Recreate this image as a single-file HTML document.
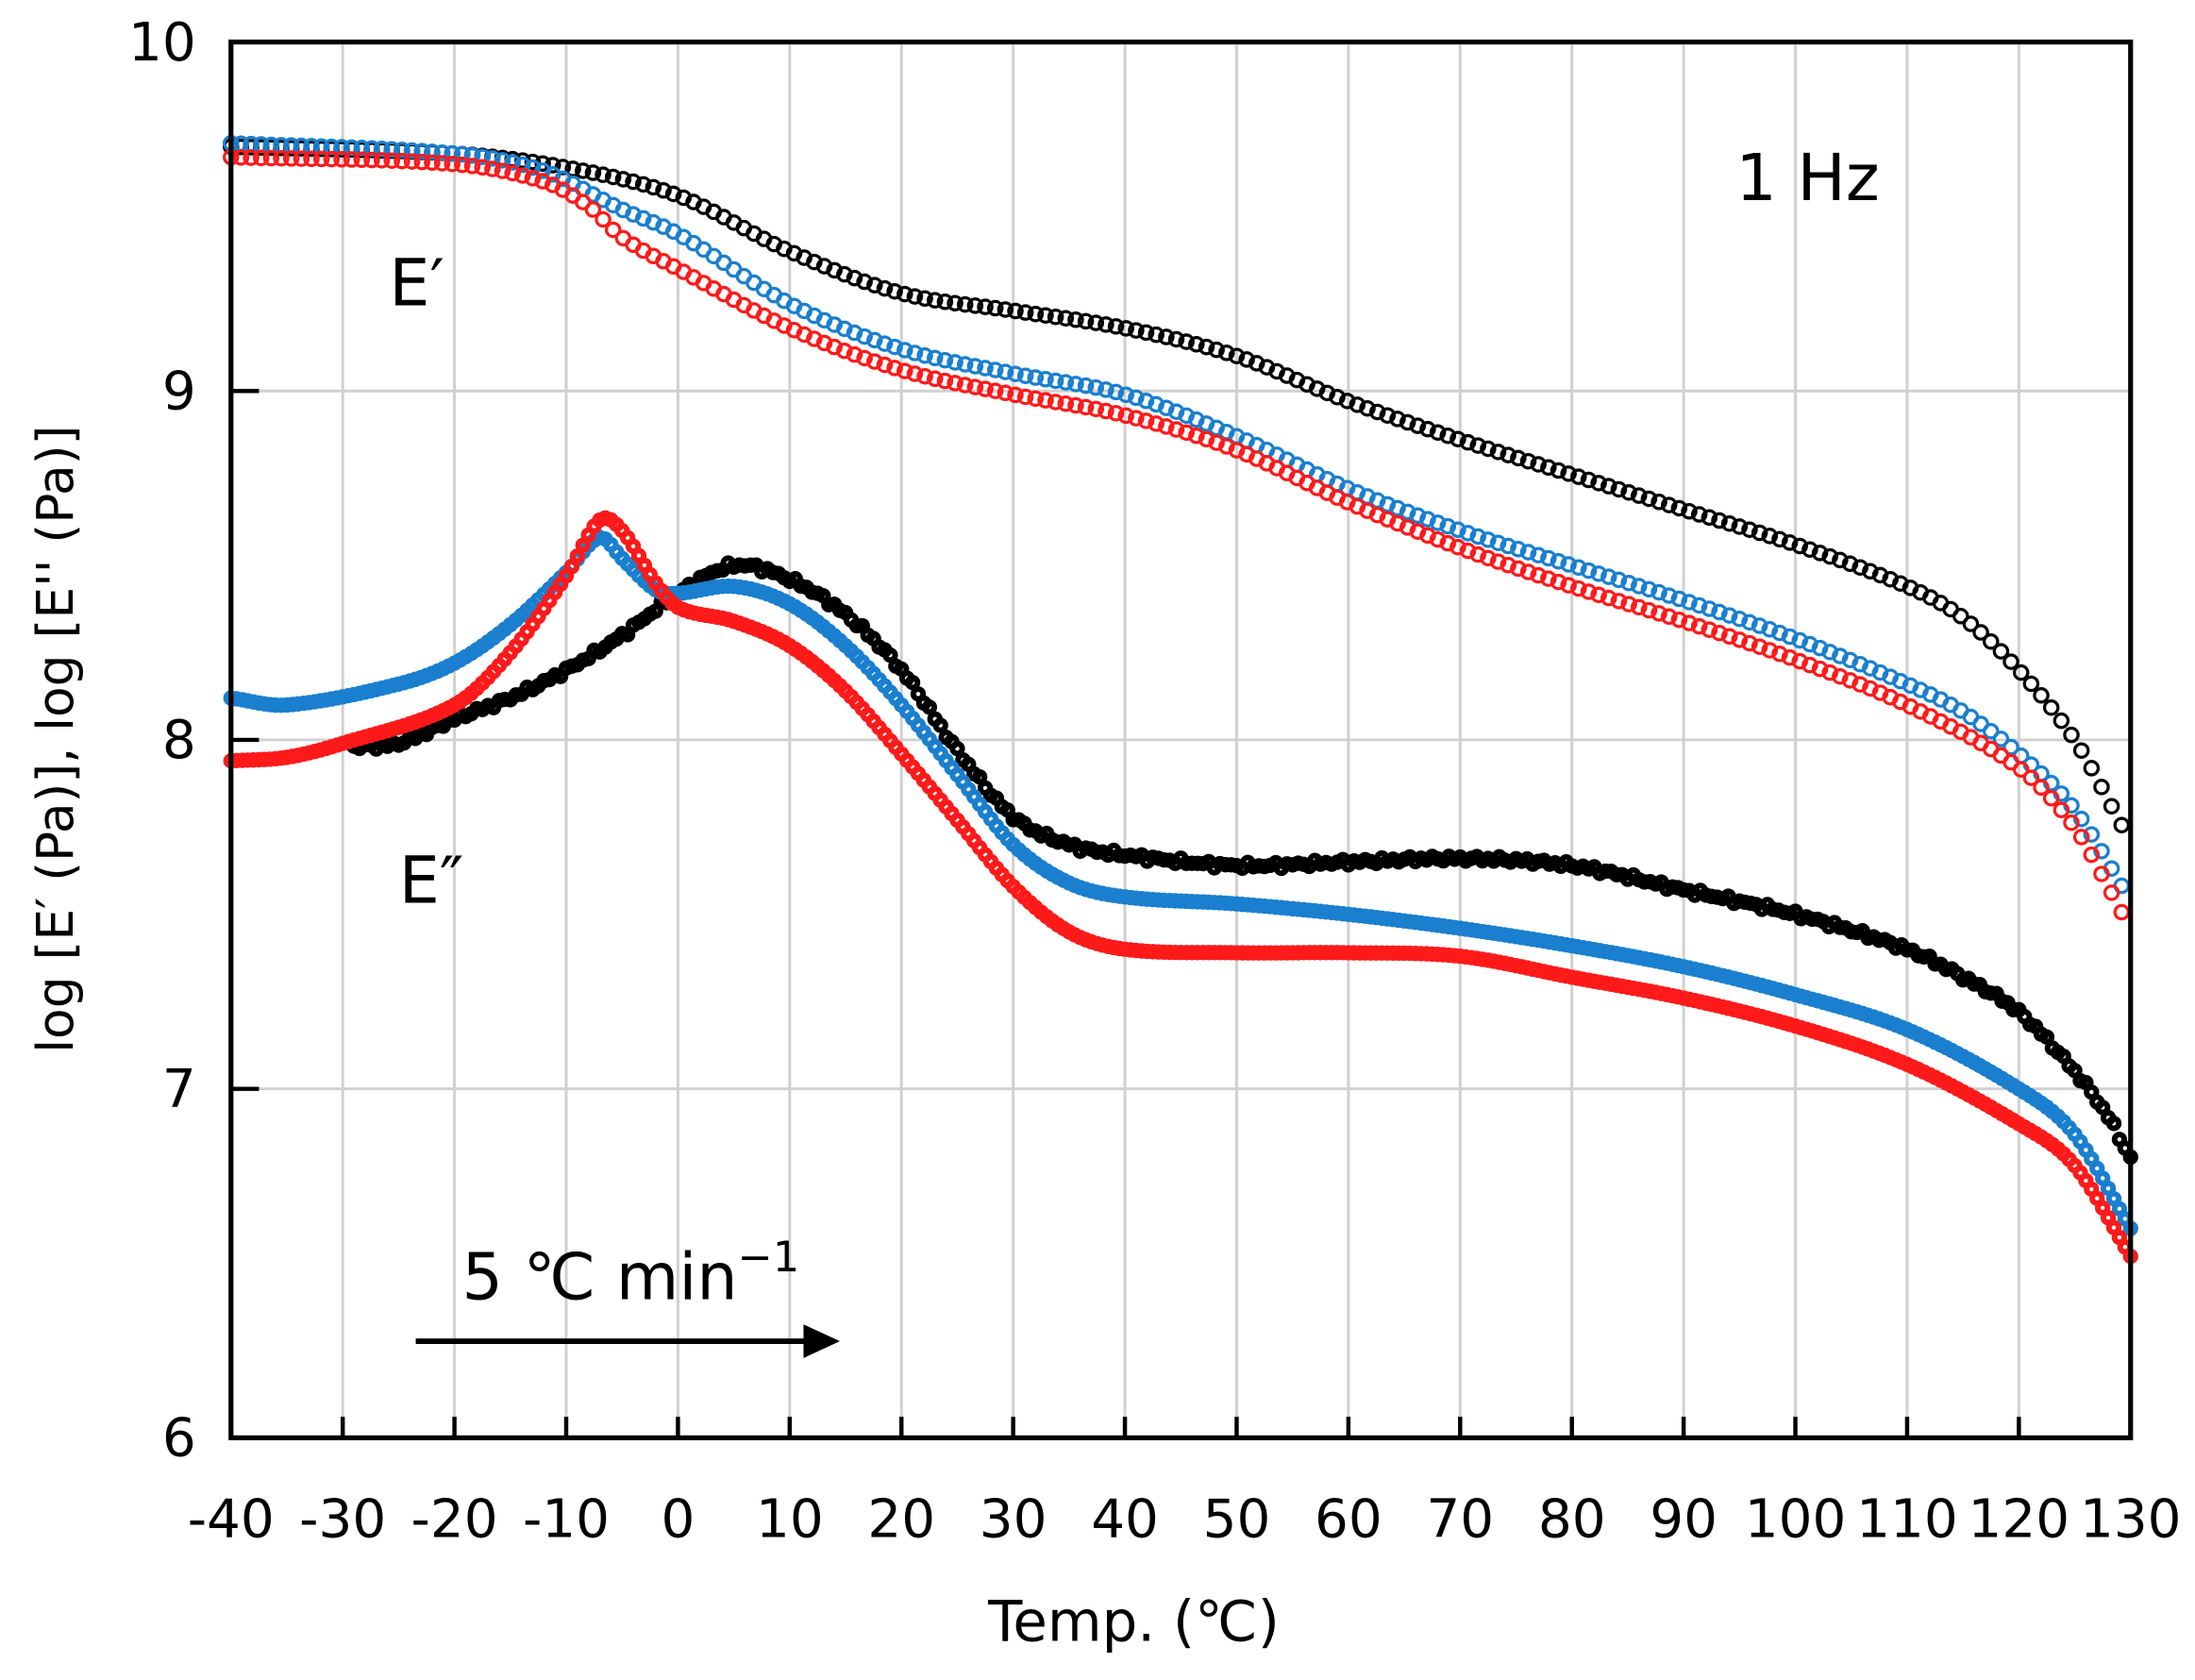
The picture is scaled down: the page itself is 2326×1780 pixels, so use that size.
<!DOCTYPE html>
<html><head><meta charset="utf-8"><style>
html,body{margin:0;padding:0;background:#fff}
svg{display:block}
text{font-family:"DejaVu Sans","Liberation Sans",sans-serif;fill:#000}
</style></head><body>
<svg id="s" width="2326" height="1780" viewBox="0 0 1568 1200" preserveAspectRatio="none" xmlns="http://www.w3.org/2000/svg">
<g id="grid" stroke="#d0d0d0" stroke-width="2"></g>
<g id="data"></g>
<rect x="165" y="30" width="1357" height="997" fill="none" stroke="#000" stroke-width="3.5"/>
<g id="ticks" stroke="#000" stroke-width="3"></g>
<g id="labels" font-size="38"></g>
<text font-size="36" transform="translate(52,528) rotate(-90)" text-anchor="middle">log [E′ (Pa)], log [E'' (Pa)]</text>
<text x="810" y="1172" font-size="40" text-anchor="middle">Temp. (℃)</text>
<text x="1240" y="143" font-size="46">1 Hz</text>
<text x="278" y="218" font-size="46">E′</text>
<text x="285" y="645" font-size="46">E″</text>
<text x="330" y="928" font-size="46">5 ℃ min<tspan font-size="30" dy="-20">−1</tspan></text>
<line x1="297" y1="958" x2="578" y2="958" stroke="#000" stroke-width="4"/>
<polygon points="600,958 574,946 574,970" fill="#000"/>
</svg>
<script>
const X=t=>165+(t+40)*1357/170, Y=v=>30+(10-v)*249.25;
const ns="http://www.w3.org/2000/svg";
const g=document.getElementById('grid'),tk=document.getElementById('ticks'),lb=document.getElementById('labels'),d=document.getElementById('data');
function el(p,n,a){const e=document.createElementNS(ns,n);for(const k in a)e.setAttribute(k,a[k]);p.appendChild(e);return e;}
for(let t=-30;t<=120;t+=10){el(g,'line',{x1:X(t),x2:X(t),y1:30,y2:1027});el(tk,'line',{x1:X(t),x2:X(t),y1:1027,y2:1012});}
for(let v=7;v<=9;v++){el(g,'line',{x1:165,x2:1522,y1:Y(v),y2:Y(v)});el(tk,'line',{x1:165,x2:185,y1:Y(v),y2:Y(v)});}
for(let v=6;v<=10;v++){const e=el(lb,'text',{x:140,y:Y(v)+13,'text-anchor':'end'});e.textContent=v;}
for(let t=-40;t<=130;t+=10){const e=el(lb,'text',{x:X(t),y:1098,'text-anchor':'middle'});e.textContent=t;}
function interp(p,t){
 const n=p.length;
 for(let i=0;i<n-1;i++){if(t<=p[i+1][0]||i==n-2){
  const a=p[i],b=p[i+1];const h=b[0]-a[0];const f=Math.min(1,Math.max(0,(t-a[0])/h));
  const sl=(j)=>{if(j<=0)return (p[1][1]-p[0][1])/(p[1][0]-p[0][0]);if(j>=n-1)return (p[n-1][1]-p[n-2][1])/(p[n-1][0]-p[n-2][0]);return (p[j+1][1]-p[j-1][1])/(p[j+1][0]-p[j-1][0]);};
  const m0=sl(i)*h,m1=sl(i+1)*h;
  const f2=f*f,f3=f2*f;
  return (2*f3-3*f2+1)*a[1]+(f3-2*f2+f)*m0+(-2*f3+3*f2)*b[1]+(f3-f2)*m1;}}
}
function series(p,col,step,r,sw,noise){
 for(let t=p[0][0];t<=p[p.length-1][0]+1e-6;t+=step){
  const v=interp(p,t)+(noise?(Math.sin(t*7.3)*0.006+Math.sin(t*3.1)*0.004):0);
  el(d,'circle',{cx:X(t),cy:Y(v),r:r,fill:'none',stroke:col,'stroke-width':sw});
 }}
const BL='#000',BU='#1a7fcf',RD='#ff1a1a';
const bE=[[-40,9.70],[-20,9.68],[-10,9.64],[0,9.56],[10,9.40],[20,9.28],[30,9.23],[40,9.18],[50,9.10],[60,8.97],[70,8.86],[80,8.76],[90,8.66],[100,8.56],[110,8.44],[115,8.35],[120,8.20],[125,8.0],[129.3,7.75]];
const uE=[[-40,9.71],[-20,9.68],[-12,9.63],[-5,9.52],[0,9.45],[10,9.25],[20,9.12],[30,9.05],[40,8.99],[50,8.87],[60,8.72],[70,8.60],[80,8.50],[90,8.40],[100,8.29],[110,8.16],[115,8.08],[120,7.96],[125,7.80],[129.8,7.55]];
const rE=[[-40,9.67],[-20,9.65],[-12,9.60],[-8,9.53],[-5,9.44],[0,9.35],[10,9.18],[20,9.06],[30,8.99],[40,8.93],[50,8.83],[60,8.68],[70,8.55],[80,8.44],[90,8.34],[100,8.23],[110,8.10],[120,7.92],[125,7.75],[128,7.58],[129.3,7.50]];
const bD=[[-29,7.98],[-25,7.99],[-20,8.06],[-15,8.12],[-10,8.20],[-5,8.30],[0,8.42],[5,8.50],[10,8.46],[15,8.36],[20,8.20],[25,7.97],[30,7.78],[35,7.70],[40,7.67],[50,7.64],[60,7.65],[70,7.66],[80,7.64],[90,7.57],[100,7.50],[110,7.40],[115,7.32],[120,7.22],[125,7.05],[128,6.92],[130,6.8]];
const uD=[[-40,8.12],[-35,8.10],[-25,8.16],[-20,8.22],[-15,8.33],[-10,8.48],[-7,8.58],[-5,8.52],[-2,8.43],[0,8.42],[5,8.44],[10,8.39],[15,8.27],[20,8.10],[25,7.90],[30,7.70],[35,7.59],[40,7.55],[50,7.53],[60,7.50],[70,7.46],[80,7.41],[90,7.35],[100,7.27],[110,7.17],[120,7.00],[125,6.87],[130,6.60]];
const rD=[[-40,7.94],[-35,7.95],[-30,7.99],[-20,8.10],[-15,8.25],[-10,8.47],[-7,8.63],[-5,8.60],[-2,8.45],[0,8.38],[5,8.34],[10,8.27],[15,8.14],[20,7.96],[25,7.77],[30,7.58],[35,7.45],[40,7.40],[50,7.39],[60,7.39],[70,7.38],[80,7.32],[90,7.26],[100,7.18],[110,7.07],[120,6.90],[125,6.78],[130,6.52]];
series(bD,BL,0.5,3.5,4,true);series(uD,BU,0.5,3.5,4,false);series(rD,RD,0.5,3.5,4,false);
series(bE,BL,0.9,4.8,2.2,false);series(uE,BU,0.9,4.8,2.2,false);series(rE,RD,0.9,4.8,2.2,false);
</script>
</body></html>
